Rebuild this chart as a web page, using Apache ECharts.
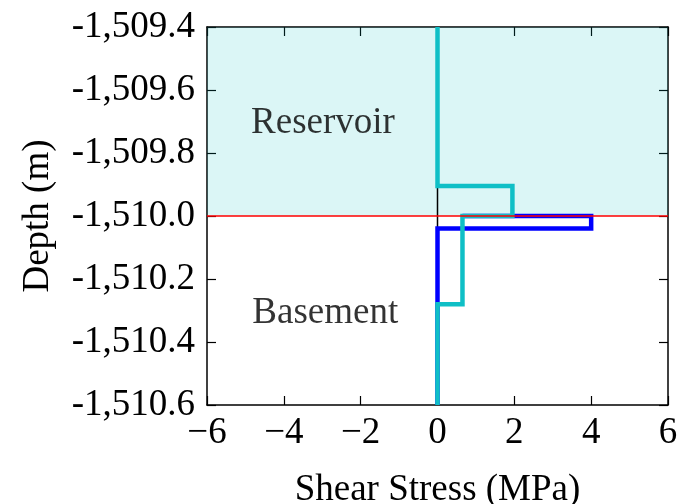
<!DOCTYPE html>
<html>
<head>
<meta charset="utf-8">
<title>Shear stress vs depth</title>
<script src="https://cdn.jsdelivr.net/npm/echarts@6/dist/echarts.min.js"></script>
<style>
  html, body { margin: 0; padding: 0; background: #fff; }
  #chart { width: 678px; height: 504px; }
</style>
</head>
<body>
<div id="chart"></div>
<script>
'use strict';
// axis ranges and ticks
var xTicks = [-6, -4, -2, 0, 2, 4, 6];
var yTicks = [-1510.6, -1510.4, -1510.2, -1510.0, -1509.8, -1509.6, -1509.4];
var interfaceDepth = -1510.0;

// step profiles: [shear stress (MPa), depth (m)]
var zeroLine = [[0, -1509.4], [0, -1510.6]];
var blueProfile = [[0, -1510.6], [0, -1510.04], [4, -1510.04], [4, -1510.0], [0.65, -1510.0]];
var cyanProfile = [[0, -1509.4], [0, -1509.905], [1.95, -1509.905], [1.95, -1510.0],
                   [0.65, -1510.0], [0.65, -1510.28], [0, -1510.28], [0, -1510.6]];

// zone labels
var zoneNames = ['Reservoir', 'Basement'];
var zonePos = [[-2.98, -1509.705], [-2.92, -1510.31]];

var FONT = '"Liberation Serif", "Times New Roman", serif';

function fmtDepth(v) {
    var s = Math.abs(v).toFixed(1);
    var parts = s.split('.');
    parts[0] = parts[0].replace(/\B(?=(\d{3})+(?!\d))/g, ',');
    return (v < 0 ? '-' : '') + parts.join('.');
}
function fmtStress(v) {
    return v < 0 ? '\u2212' + Math.abs(v) : String(v);
}

var axisLine = { show: true, onZero: false, lineStyle: { color: '#000', width: 1.5 } };
var tickIn = { show: true, inside: true, length: 9, lineStyle: { color: '#000', width: 1.2 } };

var option = {
    animation: false,
    backgroundColor: '#fff',
    grid: { left: 207, right: 10, top: 27, bottom: 99, containLabel: false, outerBoundsMode: 'none' },
    xAxis: [{
        type: 'value', min: -6, max: 6, interval: 2, position: 'bottom',
        name: 'Shear Stress (MPa)', nameLocation: 'middle', nameGap: 67,
        nameTextStyle: { fontFamily: FONT, fontSize: 37, color: '#000' },
        axisLine: axisLine, axisTick: tickIn, splitLine: { show: false },
        axisLabel: { fontFamily: FONT, fontSize: 37, color: '#000', margin: 10, formatter: fmtStress }
    }, {
        type: 'value', min: -6, max: 6, interval: 2, position: 'top',
        axisLine: axisLine, axisTick: tickIn, splitLine: { show: false },
        axisLabel: { show: false }
    }],
    yAxis: [{
        type: 'value', min: -1510.6, max: -1509.4, interval: 0.2, position: 'left',
        name: 'Depth (m)', nameLocation: 'middle', nameGap: 150, nameRotate: 90,
        nameTextStyle: { fontFamily: FONT, fontSize: 37, color: '#000' },
        axisLine: axisLine, axisTick: tickIn, splitLine: { show: false },
        axisLabel: { fontFamily: FONT, fontSize: 37, color: '#000', margin: 12, formatter: fmtDepth }
    }, {
        type: 'value', min: -1510.6, max: -1509.4, interval: 0.2, position: 'right',
        axisLine: axisLine, axisTick: tickIn, splitLine: { show: false },
        axisLabel: { show: false }
    }],
    series: [{
        // reservoir shading and interface line
        type: 'line', data: [], silent: true,
        markArea: {
            silent: true,
            itemStyle: { color: 'rgba(0,191,191,0.14)' },
            data: [[{ yAxis: interfaceDepth }, { yAxis: yTicks[yTicks.length - 1] }]]
        },
        markLine: {
            silent: true, symbol: 'none', label: { show: false },
            lineStyle: { color: '#ff0000', width: 1.5, type: 'solid' },
            data: [{ yAxis: interfaceDepth }]
        }
    }, {
        type: 'line', data: zeroLine, showSymbol: false,
        lineStyle: { color: '#000', width: 1.5 }
    }, {
        type: 'line', data: blueProfile, showSymbol: false,
        lineStyle: { color: '#0000ff', width: 4.5, join: 'miter' }
    }, {
        type: 'line', data: cyanProfile, showSymbol: false,
        lineStyle: { color: '#0fbfc6', width: 4.5, join: 'miter' }
    }, {
        type: 'scatter', symbolSize: 0, silent: true,
        data: zonePos.map(function(p, i) { return { value: p, name: zoneNames[i] }; }),
        label: {
            show: true, position: 'inside', formatter: '{b}',
            fontFamily: FONT, fontSize: 37, color: '#000'
        }
    }]
};

var myChart = echarts.init(document.getElementById('chart'));
myChart.setOption(option);
</script>
</body>
</html>
